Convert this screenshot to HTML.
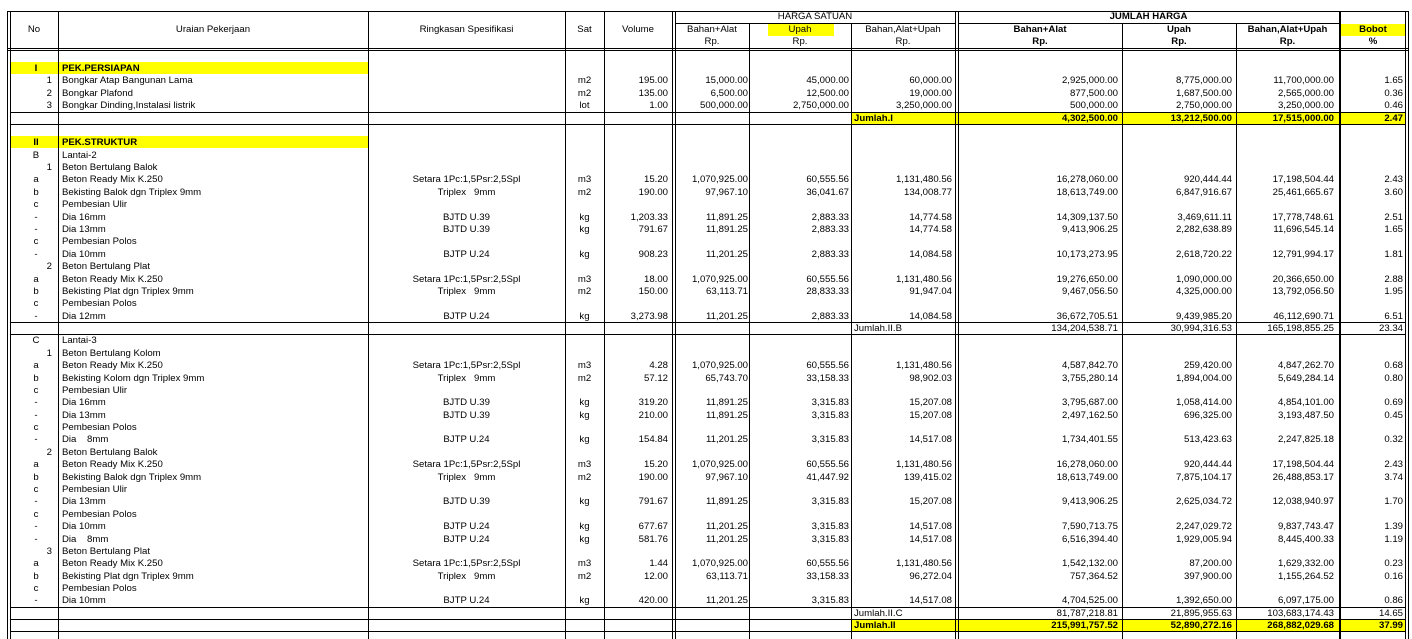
<!DOCTYPE html>
<html><head><meta charset="utf-8"><style>
body{margin:0;width:1412px;height:639px;background:#fff;position:relative;overflow:hidden;font-family:"Liberation Sans",Arial,sans-serif;font-size:9.6px;color:#000}
.v{position:absolute;width:1px;background:#000;bottom:0}
.h{position:absolute;height:1px;background:#000}
.y{position:absolute;background:#ffff00}
.r{position:absolute;left:0;width:1412px;height:12.4px;line-height:12.4px;white-space:nowrap}
.r span{position:absolute;top:1px}
.nr{right:1360px}.nc{left:10px;width:52px;text-align:center}
.u{left:62px}.s{left:368px;width:197px;text-align:center}.t{left:565px;width:39px;text-align:center}
.vo{right:744px}.a{right:664px}.b{right:563px}.c{right:460px}
.d{right:294px}.e{right:180px}.f{right:78px}.g{right:9px}.jl{left:854px}
.bd{font-weight:bold}
.hd{position:absolute;text-align:center;line-height:12px}
</style></head><body>
<div class="y" style="left:10px;top:62px;width:358px;height:12px"></div>
<div class="y" style="left:10px;top:136px;width:358px;height:12px"></div>
<div class="y" style="left:768px;top:24px;width:66px;height:12px"></div>
<div class="y" style="left:1341px;top:24px;width:64px;height:12px"></div>
<div class="y" style="left:852px;top:113px;width:553px;height:11px"></div>
<div class="y" style="left:852px;top:620px;width:553px;height:11px"></div>
<div class="v" style="left:7px;top:11px"></div><div class="v" style="left:10px;top:11px"></div>
<div class="v" style="left:58px;top:11px"></div><div class="v" style="left:368px;top:11px"></div>
<div class="v" style="left:565px;top:11px"></div><div class="v" style="left:604px;top:11px"></div>
<div class="v" style="left:672px;top:11px"></div><div class="v" style="left:675px;top:11px"></div>
<div class="v" style="left:749px;top:23px"></div><div class="v" style="left:851px;top:23px"></div>
<div class="v" style="left:955px;top:11px"></div><div class="v" style="left:958px;top:11px"></div>
<div class="v" style="left:1122px;top:23px"></div><div class="v" style="left:1236px;top:23px"></div>
<div class="v" style="left:1339px;top:11px;width:2px"></div>
<div class="v" style="left:1405px;top:11px"></div><div class="v" style="left:1408px;top:11px"></div>
<div class="h" style="left:7px;width:1402px;top:11px"></div>
<div class="h" style="left:675px;width:280px;top:23px"></div>
<div class="h" style="left:958px;width:381px;top:23px"></div>
<div class="h" style="left:7px;width:1402px;top:48px"></div>
<div class="h" style="left:7px;width:1402px;top:50px"></div>
<div class="h" style="left:10px;width:1395px;top:112px"></div>
<div class="h" style="left:10px;width:1395px;top:124px"></div>
<div class="h" style="left:10px;width:1395px;top:322px"></div>
<div class="h" style="left:10px;width:1395px;top:334px"></div>
<div class="h" style="left:10px;width:1395px;top:607px"></div>
<div class="h" style="left:10px;width:1395px;top:619px"></div>
<div class="h" style="left:10px;width:1395px;top:631px"></div>
<div class="hd" style="left:10px;width:48px;top:24px">No</div>
<div class="hd" style="left:58px;width:310px;top:24px">Uraian Pekerjaan</div>
<div class="hd" style="left:368px;width:197px;top:24px">Ringkasan Spesifikasi</div>
<div class="hd" style="left:565px;width:39px;top:24px">Sat</div>
<div class="hd" style="left:604px;width:68px;top:24px">Volume</div>
<div class="hd" style="left:675px;width:280px;top:11px">HARGA SATUAN</div>
<div class="hd bd" style="left:958px;width:381px;top:11px">JUMLAH HARGA</div>
<div class="hd" style="left:675px;width:74px;top:24px">Bahan+Alat<br>Rp.</div>
<div class="hd" style="left:749px;width:102px;top:24px">Upah<br>Rp.</div>
<div class="hd" style="left:851px;width:104px;top:24px">Bahan,Alat+Upah<br>Rp.</div>
<div class="hd bd" style="left:958px;width:164px;top:24px">Bahan+Alat<br>Rp.</div>
<div class="hd bd" style="left:1122px;width:114px;top:24px">Upah<br>Rp.</div>
<div class="hd bd" style="left:1236px;width:103px;top:24px">Bahan,Alat+Upah<br>Rp.</div>
<div class="hd bd" style="left:1341px;width:64px;top:24px">Bobot<br>%</div>
<div class="r bd" style="top:62px"><span class="nc">I</span><span class="u">PEK.PERSIAPAN</span></div>
<div class="r" style="top:74.4px"><span class="nr">1</span><span class="u">Bongkar Atap Bangunan Lama</span><span class="t">m2</span><span class="vo">195.00</span><span class="a">15,000.00</span><span class="b">45,000.00</span><span class="c">60,000.00</span><span class="d">2,925,000.00</span><span class="e">8,775,000.00</span><span class="f">11,700,000.00</span><span class="g">1.65</span></div>
<div class="r" style="top:86.8px"><span class="nr">2</span><span class="u">Bongkar Plafond</span><span class="t">m2</span><span class="vo">135.00</span><span class="a">6,500.00</span><span class="b">12,500.00</span><span class="c">19,000.00</span><span class="d">877,500.00</span><span class="e">1,687,500.00</span><span class="f">2,565,000.00</span><span class="g">0.36</span></div>
<div class="r" style="top:99.1px"><span class="nr">3</span><span class="u">Bongkar Dinding,Instalasi listrik</span><span class="t">lot</span><span class="vo">1.00</span><span class="a">500,000.00</span><span class="b">2,750,000.00</span><span class="c">3,250,000.00</span><span class="d">500,000.00</span><span class="e">2,750,000.00</span><span class="f">3,250,000.00</span><span class="g">0.46</span></div>
<div class="r bd" style="top:112px"><span class="jl">Jumlah.I</span><span class="d">4,302,500.00</span><span class="e">13,212,500.00</span><span class="f">17,515,000.00</span><span class="g">2.47</span></div>
<div class="r bd" style="top:136.3px"><span class="nc">II</span><span class="u">PEK.STRUKTUR</span></div>
<div class="r" style="top:148.7px"><span class="nc">B</span><span class="u">Lantai-2</span></div>
<div class="r" style="top:161px"><span class="nr">1</span><span class="u">Beton Bertulang Balok</span></div>
<div class="r" style="top:173.4px"><span class="nc">a</span><span class="u">Beton Ready Mix K.250</span><span class="s">Setara 1Pc:1,5Psr:2,5Spl</span><span class="t">m3</span><span class="vo">15.20</span><span class="a">1,070,925.00</span><span class="b">60,555.56</span><span class="c">1,131,480.56</span><span class="d">16,278,060.00</span><span class="e">920,444.44</span><span class="f">17,198,504.44</span><span class="g">2.43</span></div>
<div class="r" style="top:185.8px"><span class="nc">b</span><span class="u">Bekisting Balok dgn Triplex 9mm</span><span class="s">Triplex &nbsp; 9mm</span><span class="t">m2</span><span class="vo">190.00</span><span class="a">97,967.10</span><span class="b">36,041.67</span><span class="c">134,008.77</span><span class="d">18,613,749.00</span><span class="e">6,847,916.67</span><span class="f">25,461,665.67</span><span class="g">3.60</span></div>
<div class="r" style="top:198.2px"><span class="nc">c</span><span class="u">Pembesian Ulir</span></div>
<div class="r" style="top:210.6px"><span class="nc">-</span><span class="u">Dia 16mm</span><span class="s">BJTD U.39</span><span class="t">kg</span><span class="vo">1,203.33</span><span class="a">11,891.25</span><span class="b">2,883.33</span><span class="c">14,774.58</span><span class="d">14,309,137.50</span><span class="e">3,469,611.11</span><span class="f">17,778,748.61</span><span class="g">2.51</span></div>
<div class="r" style="top:223px"><span class="nc">-</span><span class="u">Dia 13mm</span><span class="s">BJTD U.39</span><span class="t">kg</span><span class="vo">791.67</span><span class="a">11,891.25</span><span class="b">2,883.33</span><span class="c">14,774.58</span><span class="d">9,413,906.25</span><span class="e">2,282,638.89</span><span class="f">11,696,545.14</span><span class="g">1.65</span></div>
<div class="r" style="top:235.3px"><span class="nc">c</span><span class="u">Pembesian Polos</span></div>
<div class="r" style="top:247.7px"><span class="nc">-</span><span class="u">Dia 10mm</span><span class="s">BJTP U.24</span><span class="t">kg</span><span class="vo">908.23</span><span class="a">11,201.25</span><span class="b">2,883.33</span><span class="c">14,084.58</span><span class="d">10,173,273.95</span><span class="e">2,618,720.22</span><span class="f">12,791,994.17</span><span class="g">1.81</span></div>
<div class="r" style="top:260.1px"><span class="nr">2</span><span class="u">Beton Bertulang Plat</span></div>
<div class="r" style="top:272.5px"><span class="nc">a</span><span class="u">Beton Ready Mix K.250</span><span class="s">Setara 1Pc:1,5Psr:2,5Spl</span><span class="t">m3</span><span class="vo">18.00</span><span class="a">1,070,925.00</span><span class="b">60,555.56</span><span class="c">1,131,480.56</span><span class="d">19,276,650.00</span><span class="e">1,090,000.00</span><span class="f">20,366,650.00</span><span class="g">2.88</span></div>
<div class="r" style="top:284.9px"><span class="nc">b</span><span class="u">Bekisting Plat dgn Triplex 9mm</span><span class="s">Triplex &nbsp; 9mm</span><span class="t">m2</span><span class="vo">150.00</span><span class="a">63,113.71</span><span class="b">28,833.33</span><span class="c">91,947.04</span><span class="d">9,467,056.50</span><span class="e">4,325,000.00</span><span class="f">13,792,056.50</span><span class="g">1.95</span></div>
<div class="r" style="top:297.2px"><span class="nc">c</span><span class="u">Pembesian Polos</span></div>
<div class="r" style="top:309.6px"><span class="nc">-</span><span class="u">Dia 12mm</span><span class="s">BJTP U.24</span><span class="t">kg</span><span class="vo">3,273.98</span><span class="a">11,201.25</span><span class="b">2,883.33</span><span class="c">14,084.58</span><span class="d">36,672,705.51</span><span class="e">9,439,985.20</span><span class="f">46,112,690.71</span><span class="g">6.51</span></div>
<div class="r" style="top:322px"><span class="jl">Jumlah.II.B</span><span class="d">134,204,538.71</span><span class="e">30,994,316.53</span><span class="f">165,198,855.25</span><span class="g">23.34</span></div>
<div class="r" style="top:334.4px"><span class="nc">C</span><span class="u">Lantai-3</span></div>
<div class="r" style="top:346.7px"><span class="nr">1</span><span class="u">Beton Bertulang Kolom</span></div>
<div class="r" style="top:359.1px"><span class="nc">a</span><span class="u">Beton Ready Mix K.250</span><span class="s">Setara 1Pc:1,5Psr:2,5Spl</span><span class="t">m3</span><span class="vo">4.28</span><span class="a">1,070,925.00</span><span class="b">60,555.56</span><span class="c">1,131,480.56</span><span class="d">4,587,842.70</span><span class="e">259,420.00</span><span class="f">4,847,262.70</span><span class="g">0.68</span></div>
<div class="r" style="top:371.5px"><span class="nc">b</span><span class="u">Bekisting Kolom dgn Triplex 9mm</span><span class="s">Triplex &nbsp; 9mm</span><span class="t">m2</span><span class="vo">57.12</span><span class="a">65,743.70</span><span class="b">33,158.33</span><span class="c">98,902.03</span><span class="d">3,755,280.14</span><span class="e">1,894,004.00</span><span class="f">5,649,284.14</span><span class="g">0.80</span></div>
<div class="r" style="top:383.9px"><span class="nc">c</span><span class="u">Pembesian Ulir</span></div>
<div class="r" style="top:396.3px"><span class="nc">-</span><span class="u">Dia 16mm</span><span class="s">BJTD U.39</span><span class="t">kg</span><span class="vo">319.20</span><span class="a">11,891.25</span><span class="b">3,315.83</span><span class="c">15,207.08</span><span class="d">3,795,687.00</span><span class="e">1,058,414.00</span><span class="f">4,854,101.00</span><span class="g">0.69</span></div>
<div class="r" style="top:408.7px"><span class="nc">-</span><span class="u">Dia 13mm</span><span class="s">BJTD U.39</span><span class="t">kg</span><span class="vo">210.00</span><span class="a">11,891.25</span><span class="b">3,315.83</span><span class="c">15,207.08</span><span class="d">2,497,162.50</span><span class="e">696,325.00</span><span class="f">3,193,487.50</span><span class="g">0.45</span></div>
<div class="r" style="top:421px"><span class="nc">c</span><span class="u">Pembesian Polos</span></div>
<div class="r" style="top:433.4px"><span class="nc">-</span><span class="u">Dia &nbsp;&nbsp; 8mm</span><span class="s">BJTP U.24</span><span class="t">kg</span><span class="vo">154.84</span><span class="a">11,201.25</span><span class="b">3,315.83</span><span class="c">14,517.08</span><span class="d">1,734,401.55</span><span class="e">513,423.63</span><span class="f">2,247,825.18</span><span class="g">0.32</span></div>
<div class="r" style="top:445.8px"><span class="nr">2</span><span class="u">Beton Bertulang Balok</span></div>
<div class="r" style="top:458.2px"><span class="nc">a</span><span class="u">Beton Ready Mix K.250</span><span class="s">Setara 1Pc:1,5Psr:2,5Spl</span><span class="t">m3</span><span class="vo">15.20</span><span class="a">1,070,925.00</span><span class="b">60,555.56</span><span class="c">1,131,480.56</span><span class="d">16,278,060.00</span><span class="e">920,444.44</span><span class="f">17,198,504.44</span><span class="g">2.43</span></div>
<div class="r" style="top:470.6px"><span class="nc">b</span><span class="u">Bekisting Balok dgn Triplex 9mm</span><span class="s">Triplex &nbsp; 9mm</span><span class="t">m2</span><span class="vo">190.00</span><span class="a">97,967.10</span><span class="b">41,447.92</span><span class="c">139,415.02</span><span class="d">18,613,749.00</span><span class="e">7,875,104.17</span><span class="f">26,488,853.17</span><span class="g">3.74</span></div>
<div class="r" style="top:482.9px"><span class="nc">c</span><span class="u">Pembesian Ulir</span></div>
<div class="r" style="top:495.3px"><span class="nc">-</span><span class="u">Dia 13mm</span><span class="s">BJTD U.39</span><span class="t">kg</span><span class="vo">791.67</span><span class="a">11,891.25</span><span class="b">3,315.83</span><span class="c">15,207.08</span><span class="d">9,413,906.25</span><span class="e">2,625,034.72</span><span class="f">12,038,940.97</span><span class="g">1.70</span></div>
<div class="r" style="top:507.7px"><span class="nc">c</span><span class="u">Pembesian Polos</span></div>
<div class="r" style="top:520.1px"><span class="nc">-</span><span class="u">Dia 10mm</span><span class="s">BJTP U.24</span><span class="t">kg</span><span class="vo">677.67</span><span class="a">11,201.25</span><span class="b">3,315.83</span><span class="c">14,517.08</span><span class="d">7,590,713.75</span><span class="e">2,247,029.72</span><span class="f">9,837,743.47</span><span class="g">1.39</span></div>
<div class="r" style="top:532.5px"><span class="nc">-</span><span class="u">Dia &nbsp;&nbsp; 8mm</span><span class="s">BJTP U.24</span><span class="t">kg</span><span class="vo">581.76</span><span class="a">11,201.25</span><span class="b">3,315.83</span><span class="c">14,517.08</span><span class="d">6,516,394.40</span><span class="e">1,929,005.94</span><span class="f">8,445,400.33</span><span class="g">1.19</span></div>
<div class="r" style="top:544.8px"><span class="nr">3</span><span class="u">Beton Bertulang Plat</span></div>
<div class="r" style="top:557.2px"><span class="nc">a</span><span class="u">Beton Ready Mix K.250</span><span class="s">Setara 1Pc:1,5Psr:2,5Spl</span><span class="t">m3</span><span class="vo">1.44</span><span class="a">1,070,925.00</span><span class="b">60,555.56</span><span class="c">1,131,480.56</span><span class="d">1,542,132.00</span><span class="e">87,200.00</span><span class="f">1,629,332.00</span><span class="g">0.23</span></div>
<div class="r" style="top:569.6px"><span class="nc">b</span><span class="u">Bekisting Plat dgn Triplex 9mm</span><span class="s">Triplex &nbsp; 9mm</span><span class="t">m2</span><span class="vo">12.00</span><span class="a">63,113.71</span><span class="b">33,158.33</span><span class="c">96,272.04</span><span class="d">757,364.52</span><span class="e">397,900.00</span><span class="f">1,155,264.52</span><span class="g">0.16</span></div>
<div class="r" style="top:582px"><span class="nc">c</span><span class="u">Pembesian Polos</span></div>
<div class="r" style="top:594.4px"><span class="nc">-</span><span class="u">Dia 10mm</span><span class="s">BJTP U.24</span><span class="t">kg</span><span class="vo">420.00</span><span class="a">11,201.25</span><span class="b">3,315.83</span><span class="c">14,517.08</span><span class="d">4,704,525.00</span><span class="e">1,392,650.00</span><span class="f">6,097,175.00</span><span class="g">0.86</span></div>
<div class="r" style="top:607px"><span class="jl">Jumlah.II.C</span><span class="d">81,787,218.81</span><span class="e">21,895,955.63</span><span class="f">103,683,174.43</span><span class="g">14.65</span></div>
<div class="r bd" style="top:619.3px"><span class="jl">Jumlah.II</span><span class="d">215,991,757.52</span><span class="e">52,890,272.16</span><span class="f">268,882,029.68</span><span class="g">37.99</span></div>
</body></html>
